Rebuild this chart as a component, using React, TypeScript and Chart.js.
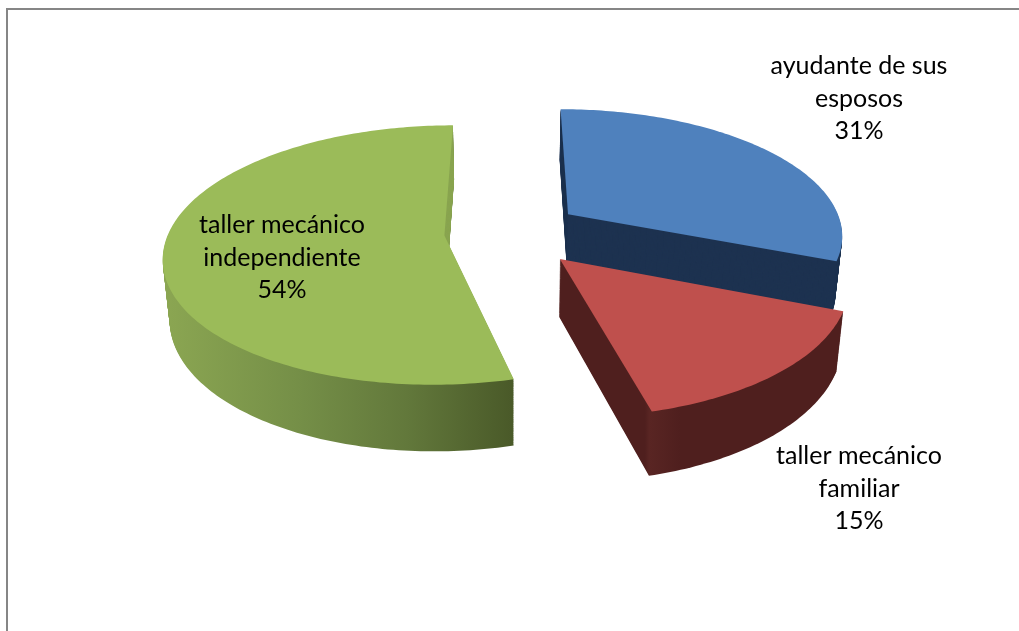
import React, { useEffect, useRef } from "react";
import { Chart, registerables } from "chart.js";

Chart.register(...registerables);

const categories = ["ayudante de sus esposos", "taller mecánico familiar", "taller mecánico independiente"];
const values = [31, 15, 54];
const topColors = ["#4f81bd", "#bf504d", "#9bbb59"];

// label layout: wrapped lines of each category with the percentage appended
const labelLines = [
  ["ayudante de sus", "esposos"],
  ["taller mecánico", "familiar"],
  ["taller mecánico", "independiente"],
];
const labelCentres = [
  { x: 859, y: 66 },
  { x: 859, y: 456 },
  { x: 282, y: 225 },
];
const LINE_HEIGHT = 32.5;

// simple camera for the tilted, exploded pie
const camera = { cx: 510, cy: 233, g: 276, s: 126, p: 0.15, shrink: 0.02 };
const depths = [56, 56, 59];
const explode = [
  { u: 0.215, v: -0.152 },
  { u: 0.175, v: 0.2 },
  { u: -0.237, v: 0.02 },
];
const drawOrder = [2, 0, 1];

function project(u: number, v: number, z: number, depth: number) {
  const { cx, cy, g, s, p, shrink } = camera;
  const w = 1 - p * v;
  const k = 1 - (shrink * z) / depth;
  return { x: cx + (g * k * u) / w, y: cy + (s * k * v + z) / w };
}

// A context that forwards to the real one, but sends every path point through the camera.
function projectedContext(real: any, arc: any, off: { u: number; v: number }, z: number, depth: number) {
  const R = arc.outerRadius;
  const put = (x: number, y: number, first: boolean) => {
    const q = project((x - arc.x) / R + off.u, (y - arc.y) / R + off.v, z, depth);
    if (first) real.moveTo(q.x, q.y);
    else real.lineTo(q.x, q.y);
  };
  const handlers: any = {
    moveTo: (x: number, y: number) => put(x, y, true),
    lineTo: (x: number, y: number) => put(x, y, false),
    arc: (x: number, y: number, r: number, a0: number, a1: number, ccw?: boolean) => {
      if (r <= 0) {
        put(x, y, false);
        return;
      }
      let sweep = a1 - a0;
      if (ccw && sweep > 0) sweep -= Math.PI * 2;
      const n = Math.max(2, Math.ceil((Math.abs(sweep) * 180) / Math.PI));
      for (let i = 0; i <= n; i++) {
        const a = a0 + (sweep * i) / n;
        put(x + r * Math.cos(a), y + r * Math.sin(a), false);
      }
    },
  };
  return new Proxy(
    {},
    {
      get(_t, k: string) {
        if (k in handlers) return handlers[k];
        const v = real[k];
        return typeof v === "function" ? v.bind(real) : v;
      },
      set(_t, k: string, v) {
        real[k] = v;
        return true;
      },
    }
  );
}

function drawArc(real: any, arc: any, i: number, z: number, fill: any) {
  const shadow = Object.create(arc);
  shadow.options = { ...arc.options, backgroundColor: fill, borderWidth: 0 };
  shadow.draw(projectedContext(real, arc, explode[i], z, depths[i]));
}

function greenWall(ctx: CanvasRenderingContext2D) {
  const g = ctx.createLinearGradient(165, 0, 511, 0);
  g.addColorStop(0, "#8ba652");
  g.addColorStop(0.4, "#748e47");
  g.addColorStop(0.7, "#62783b");
  g.addColorStop(1, "#4a5a29");
  return g;
}

function redWall(ctx: CanvasRenderingContext2D) {
  const g = ctx.createLinearGradient(645, 0, 680, 0);
  g.addColorStop(0, "#4f1f1e");
  g.addColorStop(0.12, "#592523");
  g.addColorStop(1, "#4f1f1e");
  return g;
}

const pie3d = {
  id: "pie3d",
  beforeDatasetsDraw(chart: any) {
    const ctx = chart.ctx;
    const arcs = chart.getDatasetMeta(0).data;
    const walls = ["#1d3250", redWall(ctx), greenWall(ctx)];
    for (const i of drawOrder) {
      for (let z = depths[i]; z > 0; z -= 1) drawArc(ctx, arcs[i], i, z, walls[i]);
      if (i === 2) {
        // the flat cut face at the back of the large slice
        ctx.save();
        ctx.beginPath();
        ctx.rect(400, 100, 100, 160);
        ctx.clip();
        for (let z = depths[i]; z > 0; z -= 1) drawArc(ctx, arcs[i], i, z, "#8aa551");
        ctx.restore();
      }
      drawArc(ctx, arcs[i], i, 0, topColors[i]);
    }
    return false;
  },
  afterDraw(chart: any) {
    const ctx: CanvasRenderingContext2D = chart.ctx;
    ctx.save();
    // frame
    ctx.fillStyle = "#868686";
    ctx.fillRect(6, 8, 1013, 2);
    ctx.fillRect(6, 8, 2, 623);
    // labels
    ctx.fillStyle = "#000000";
    ctx.font = '25px Lato, "Noto Sans", sans-serif';
    ctx.textAlign = "center";
    ctx.textBaseline = "middle";
    categories.forEach((_c, i) => {
      const lines = [...labelLines[i], `${values[i]}%`];
      lines.forEach((l, j) => ctx.fillText(l, labelCentres[i].x, labelCentres[i].y + j * LINE_HEIGHT));
    });
    ctx.restore();
  },
};

export default function App() {
  const ref = useRef<HTMLCanvasElement | null>(null);
  useEffect(() => {
    document.body.style.margin = "0";
    const chart = new Chart(ref.current as HTMLCanvasElement, {
      type: "pie",
      data: {
        labels: categories,
        datasets: [{ data: values, backgroundColor: topColors, borderWidth: 0 }],
      },
      options: {
        animation: false,
        responsive: false,
        plugins: { legend: { display: false }, tooltip: { enabled: false } },
      },
      plugins: [pie3d as any],
    });
    return () => chart.destroy();
  }, []);
  return <canvas ref={ref} width={1019} height={631} style={{ display: "block" }} />;
}
